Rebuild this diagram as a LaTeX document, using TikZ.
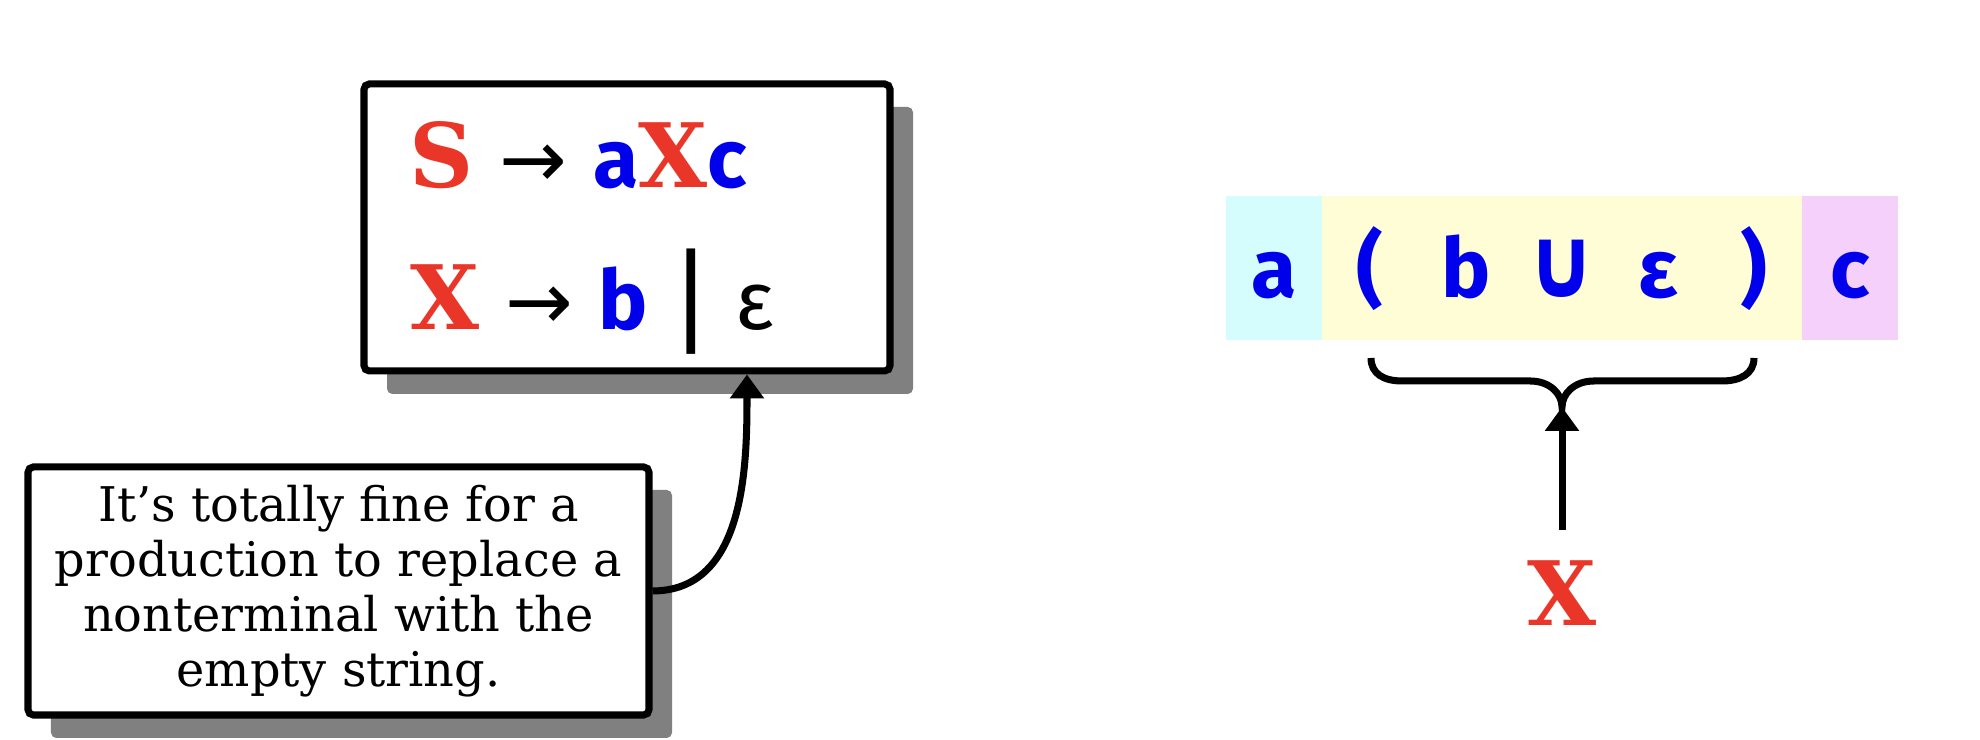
\documentclass[tikz,border=0pt]{standalone}
\usepackage{fontspec}
\usepackage{graphicx}
\setmainfont{DejaVu Serif}
\newfontfamily\termfont{Fira Sans}
\newfontfamily\symfont{DejaVu Sans}
\usetikzlibrary{
  arrows.meta,
  positioning,
  shadows
}
\definecolor{ntred}{RGB}{234,54,40}
\definecolor{tmblue}{RGB}{0,0,235}
\definecolor{cellcyan}{RGB}{213,253,253}
\definecolor{cellyellow}{RGB}{255,253,213}
\definecolor{cellpink}{RGB}{245,208,251}

\newcommand{\nt}[1]{{\fontsize{25.3}{30}\selectfont\rmfamily\bfseries\color{ntred}#1}}
\newcommand{\tm}[1]{{\fontsize{23.5}{28}\selectfont\termfont\bfseries\color{tmblue}#1}}
\newcommand{\yields}{{\fontsize{23}{28}\selectfont\symfont →}}

\begin{document}
\begin{tikzpicture}[
  card/.style={draw=black, line width=2pt, fill=white, rounded corners=1.5pt,
               drop shadow={shadow xshift=0.23cm, shadow yshift=-0.23cm, fill=black!50, opacity=1}},
  cell/.style={minimum width=0.96cm, minimum height=1.44cm, inner sep=0pt, outer sep=0pt,
               text height=0.75cm, text depth=0.15cm, text=tmblue,
               font=\fontsize{23.5}{28}\selectfont\termfont\bfseries},
  rule/.style={anchor=base west, inner sep=0pt, font=\fontsize{23}{28}\selectfont\symfont},
  arr/.style={-{Triangle[width=0.33cm,length=0.24cm]}, line width=2pt},
  brace/.style={line width=2pt}
]
  \useasboundingbox (0,0) rectangle (19.8,7.4);

  % grammar
  \node[card, minimum width=5.26cm, minimum height=2.87cm] (gram) at (6.27,5.125) {};
  \node[rule] (ruleS) at (4.09,5.52) {\nt{S} \yields{} \tm{a}\nt{X}\tm{c}};
  \node[rule] (ruleX) at (4.10,4.10) {\nt{X} \yields{} \tm{b} {\fontsize{30}{30}\selectfont |} {\fontsize{23.5}{28}\selectfont\termfont ε}};

  % note
  \node[card, minimum width=6.21cm, minimum height=2.48cm, align=center,
        font=\fontsize{13.6}{15.6}\selectfont] (ann) at (3.385,1.49)
        {It’s totally fine for a\\production to replace a\\nonterminal with the\\empty string.};

  % string
  \node[cell, fill=cellcyan]   (s1) at (12.74,4.72) {a};
  \node[cell, fill=cellyellow, right=0pt of s1] (s2) {(};
  \node[cell, fill=cellyellow, right=0pt of s2] (s3) {b};
  \node[cell, fill=cellyellow, right=0pt of s3] (s4) {\symfont\scalebox{1.05}[1.2]{∪}};
  \node[cell, fill=cellyellow, right=0pt of s4] (s5) {ε};
  \node[cell, fill=cellyellow, right=0pt of s5] (s6) {)};
  \node[cell, fill=cellpink,   right=0pt of s6] (s7) {c};

  \coordinate (brtip) at (15.62,3.33);
  \draw[brace] (13.71,3.82) .. controls (13.71,3.66) and (13.84,3.59) .. (14.02,3.59)
    -- (15.30,3.59) .. controls (15.50,3.59) and (15.62,3.46) .. (brtip)
    .. controls (15.62,3.46) and (15.74,3.59) .. (15.94,3.59)
    -- (17.22,3.59) .. controls (17.40,3.59) and (17.54,3.66) .. (17.54,3.82);

  \node[anchor=base, inner xsep=0pt, inner ysep=0.3cm] (xnt) at (15.62,1.14) {\nt{X}};

  \draw[arr] (xnt.north) -- (brtip);
  \draw[arr] (ann.east) to[out=0, in=-90] ([xshift=1.2cm]gram.south);
\end{tikzpicture}
\end{document}
